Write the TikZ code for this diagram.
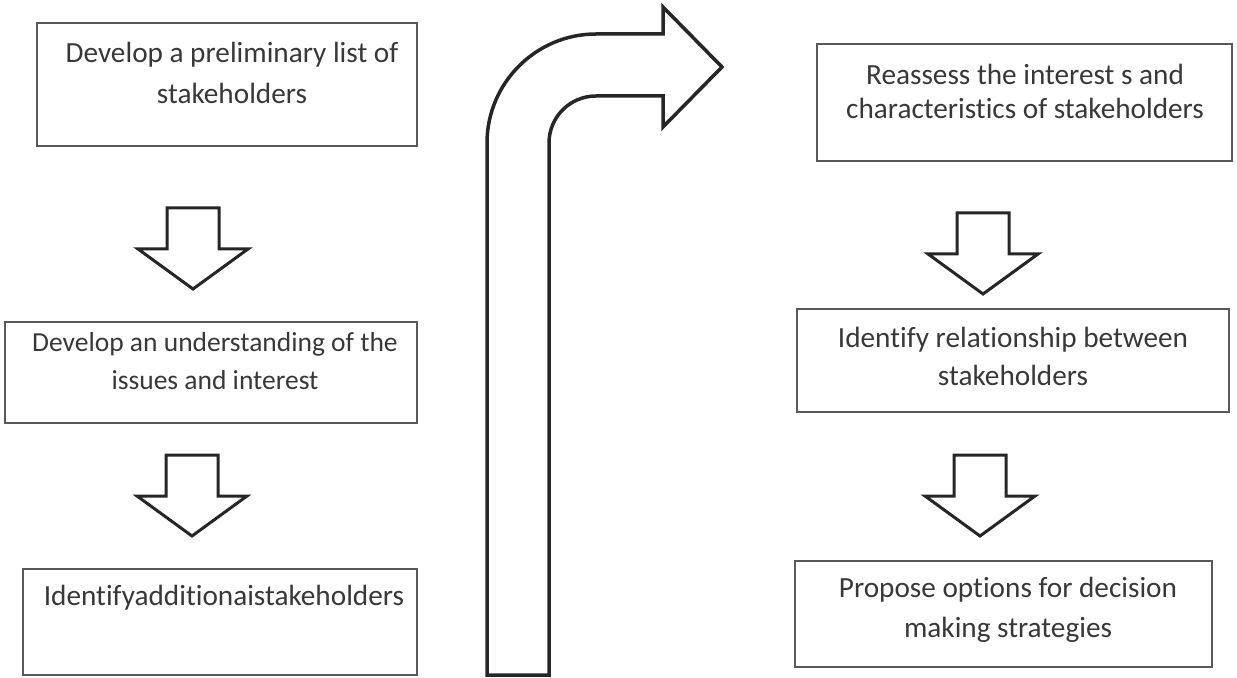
\documentclass[tikz,border=0pt]{standalone}
\usepackage{fontspec}
\setmainfont{Carlito}[Ligatures=NoCommon]
\usetikzlibrary{fit}

\begin{document}
\begin{tikzpicture}[x=0.4pt,y=-0.4pt,
  stagebox/.style={draw=black!65,line width=0.6pt,inner sep=0pt},
  stagetext/.style={align=center,text=black!78,font=\fontsize{11.7}{#1}\selectfont},
  stagetext/.default=16.4pt,
  blockarrow/.style={draw=black!85,line width=1.2pt,line join=miter,fill=white}
]
\useasboundingbox (0,0) rectangle (1237,678);

% left column
\node[stagebox,fit={(37,23) (417,146)}] (prelim) {};
\node[stagetext=16.4pt] (prelimtxt) at (232,73) {Develop a preliminary list of\\stakeholders};
\node[stagebox,fit={(5,322) (417,423)}] (issues) {};
\node[stagetext=15.2pt,font=\fontsize{11}{15.2pt}\selectfont] (issuestxt) at (215,361) {Develop an understanding of the\\issues and interest};
\node[stagebox,fit={(23,569) (417,675)}] (additional) {};
\node[stagetext,anchor=west] (additionaltxt) at (35,598) {Identifyadditionaistakeholders};

% right column
\node[stagebox,fit={(817,44) (1232,161)}] (reassess) {};
\node[stagetext=13.6pt] (reassesstxt) at (1025,91) {Reassess the interest s and\\characteristics of stakeholders};
\node[stagebox,fit={(797,309) (1229,412)}] (relation) {};
\node[stagetext=15.2pt] (relationtxt) at (1013,356) {Identify relationship between\\stakeholders};
\node[stagebox,fit={(795,561) (1212,667)}] (propose) {};
\node[stagetext=16pt] (proposetxt) at (1008,610) {Propose options for decision\\making strategies};

% down arrows
\foreach \ax/\ay in {193/208,192/455,983/213,980/455}
  \draw[blockarrow] (\ax-26,\ay) -- (\ax+26,\ay) -- (\ax+26,\ay+41) -- (\ax+55,\ay+41)
    -- (\ax,\ay+81) -- (\ax-55,\ay+41) -- (\ax-26,\ay+41) -- cycle;

% bent arrow
\draw[blockarrow,line width=1.4pt] (487,675) -- (487,143) .. controls (487,83) and (536,34) .. (596,34)
  -- (663,34) -- (663,7) -- (722,67) -- (663,127) -- (663,96) -- (596,96)
  .. controls (570,96) and (549,117) .. (549,143) -- (549,675) -- cycle;
\end{tikzpicture}
\end{document}
